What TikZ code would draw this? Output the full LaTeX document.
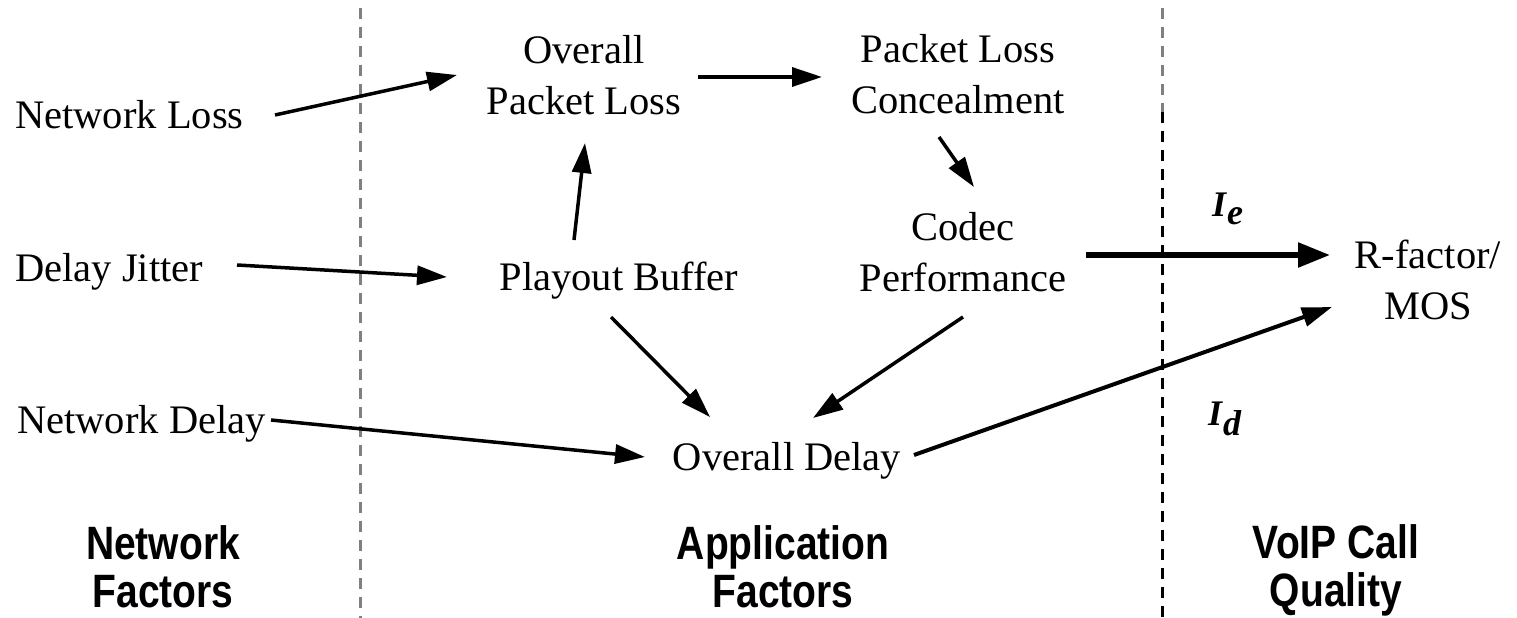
\documentclass[tikz,border=0pt]{standalone}
\usepackage{fontspec}
\setmainfont{Liberation Serif}
\setsansfont{Liberation Sans}
\usetikzlibrary{arrows.meta,calc}

\begin{document}
\begin{tikzpicture}[x=1pt,y=-1pt,
  lbl/.style={font=\fontsize{40.5}{51}\selectfont, inner sep=0pt, align=center},
  grp/.style={font=\fontsize{39}{40}\selectfont\sffamily\bfseries, inner sep=0pt, align=center, yscale=1.2},
  imp/.style={font=\fontsize{36}{36}\selectfont\bfseries\itshape, inner sep=0pt, anchor=base west},
  arr/.style={line width=3.5pt, -{Triangle[length=30pt,width=19pt]}},
  heavy/.style={line width=5.5pt, -{Triangle[length=32pt,width=24pt]}},
  divider/.style={dash pattern=on 11pt off 8pt, line width=3pt}]
\useasboundingbox (0,0) rectangle (1517,618);

% column dividers
\draw[divider, black!50] (360,8) -- (360,618);
\draw[divider, black!50] (1162,8) -- (1162,112);
\draw[divider, black] (1162,112) -- (1162,618);

% network factors
\node[lbl, anchor=base west] (nl) at (15,128) {Network Loss};
\node[lbl, anchor=base west] (dj) at (15,281) {Delay Jitter};
\node[lbl, anchor=base west] (nd) at (17,433) {Network Delay};

% application factors
\node[lbl] (opl) at (584,75) {Overall\\Packet Loss};
\node[lbl] (plc) at (958,74) {Packet Loss\\Concealment};
\node[lbl, anchor=base] (pb) at (619,290) {Playout Buffer};
\node[lbl] (cp) at (963,252) {Codec\\Performance};
\node[lbl, anchor=base] (od) at (787,470) {Overall Delay};

% call quality
\node[lbl] (rm) at (1428,280) {R-factor/\\MOS};
\node[imp] (ie) at (1212,216) {I\kern1pt\raisebox{-8pt}{e}};
\node[imp] (id) at (1208,425) {I\kern1pt\raisebox{-10pt}{d}};

% group captions
\node[grp] (nf) at (163,567) {Network\\Factors};
\node[grp] (af) at (783,567) {Application\\Factors};
\node[grp] (vq) at (1336,570) {VoIP Call\\Quality};

% dependencies
\draw[arr] ($(nl.base west)+(260,-13)$) -- ($(opl.center)+(-127,0)$);
\draw[arr] ($(dj.base west)+(222,-16)$) -- ($(pb.base)+(-172,-13)$);
\draw[arr] ($(nd.base west)+(254,-13)$) -- ($(od.base)+(-142,-13)$);
\draw[arr] ($(pb.base)+(-45,-50)$) -- ($(opl.center)+(1,68)$);
\draw[arr] ($(opl.center)+(114,2)$) -- ($(plc.center)+(-136,3)$);
\draw[arr] ($(plc.center)+(-19,63)$) -- ($(cp.center)+(11,-65)$);
\draw[arr] ($(pb.base)+(-8,27)$) -- ($(od.base)+(-77,-53)$);
\draw[arr] ($(cp.center)+(0,65)$) -- ($(od.base)+(26,-52)$);
\draw[heavy] ($(cp.center)+(123,3)$) -- ($(rm.center)+(-98,-25)$);
\draw[arr, line width=4pt] ($(od.base)+(127,-15)$) -- ($(rm.center)+(-96,27)$);
\end{tikzpicture}
\end{document}
